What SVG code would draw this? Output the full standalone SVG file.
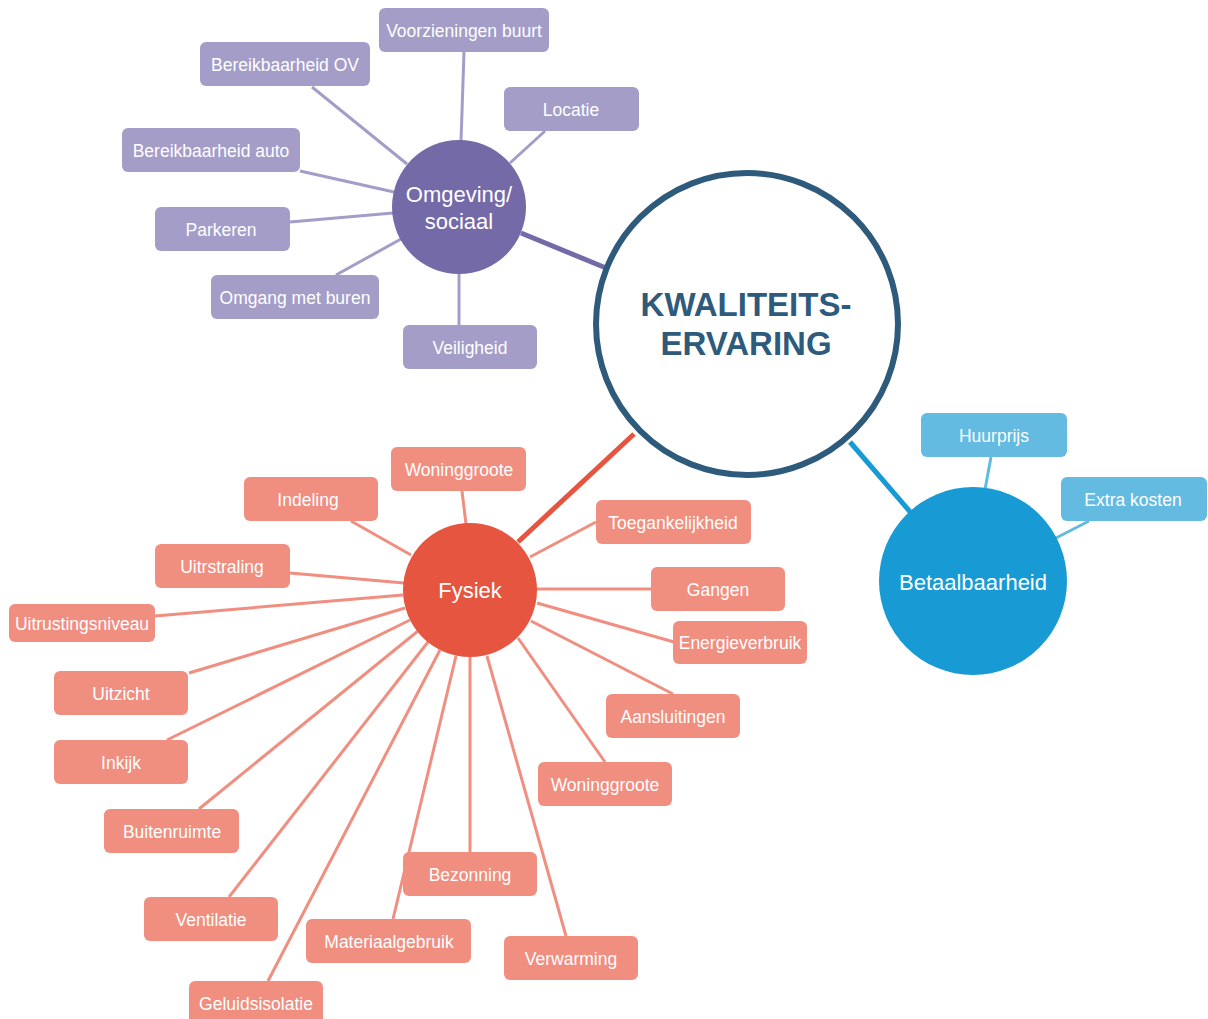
<svg xmlns="http://www.w3.org/2000/svg" width="1208" height="1019" viewBox="0 0 1208 1019">
  <style>
    text { font-family: "Liberation Sans", Arial, sans-serif; text-anchor: middle; fill: #ffffff; }
    .leaf { font-size: 17.5px; }
    .hub { font-size: 22px; }
    .title { font-size: 33px; font-weight: bold; fill: #2e5a7b; }
    .box-p { fill: #a39dc8; }
    .box-r { fill: #f08e80; }
    .box-b { fill: #63bbe1; }
    .ln-p { stroke: #a39dc8; stroke-width: 3; }
    .ln-r { stroke: #f08e80; stroke-width: 3; }
    .ln-b { stroke: #63bbe1; stroke-width: 3; }
    .main-p { stroke: #756aa8; stroke-width: 5; }
    .main-r { stroke: #e5553f; stroke-width: 5; }
    .main-b { stroke: #189bd4; stroke-width: 5; }
  </style>
  <rect width="1208" height="1019" fill="#ffffff"/>

  <g id="connectors" fill="none">
    <!-- hubs to centre -->
    <line class="main-p" x1="521" y1="233" x2="606" y2="268"/>
    <line class="main-r" x1="518" y1="542" x2="634" y2="434"/>
    <line class="main-b" x1="850" y1="442" x2="912" y2="514"/>
    <!-- Omgeving/sociaal leaves -->
    <line class="ln-p" x1="464" y1="52" x2="461" y2="141"/>
    <line class="ln-p" x1="312" y1="87" x2="407" y2="164"/>
    <line class="ln-p" x1="545" y1="131" x2="510" y2="163"/>
    <line class="ln-p" x1="300" y1="171" x2="394" y2="192"/>
    <line class="ln-p" x1="290" y1="222" x2="393" y2="213"/>
    <line class="ln-p" x1="336" y1="275" x2="401" y2="239"/>
    <line class="ln-p" x1="459" y1="273" x2="459" y2="325"/>
    <!-- Betaalbaarheid leaves -->
    <line class="ln-b" x1="991" y1="457" x2="984" y2="495"/>
    <line class="ln-b" x1="1089" y1="521" x2="1056" y2="538"/>
    <!-- Fysiek leaves -->
    <line class="ln-r" x1="462" y1="491" x2="466" y2="524"/>
    <line class="ln-r" x1="351" y1="521" x2="411" y2="555"/>
    <line class="ln-r" x1="596" y1="522" x2="530" y2="557"/>
    <line class="ln-r" x1="290" y1="573" x2="404" y2="583"/>
    <line class="ln-r" x1="651" y1="589" x2="536" y2="589"/>
    <line class="ln-r" x1="674" y1="642" x2="537" y2="603"/>
    <line class="ln-r" x1="155" y1="616" x2="403" y2="595"/>
    <line class="ln-r" x1="189" y1="673" x2="405" y2="608"/>
    <line class="ln-r" x1="673" y1="694" x2="531" y2="621"/>
    <line class="ln-r" x1="167" y1="740" x2="410" y2="620"/>
    <line class="ln-r" x1="605" y1="762" x2="518" y2="638"/>
    <line class="ln-r" x1="199" y1="809" x2="418" y2="631"/>
    <line class="ln-r" x1="470" y1="852" x2="470" y2="657"/>
    <line class="ln-r" x1="229" y1="897" x2="428" y2="642"/>
    <line class="ln-r" x1="393" y1="919" x2="456" y2="656"/>
    <line class="ln-r" x1="268" y1="981" x2="440" y2="650"/>
    <line class="ln-r" x1="566" y1="936" x2="487" y2="656"/>
  </g>

  <g id="kwaliteitservaring">
    <circle cx="747" cy="324" r="151" fill="#ffffff" stroke="#2e5a7b" stroke-width="6"/>
    <text class="title" x="746" y="316">KWALITEITS-</text>
    <text class="title" x="746" y="355">ERVARING</text>
  </g>

  <g id="omgeving-sociaal">
    <circle cx="459" cy="207" r="67" fill="#756aa8"/>
    <text class="hub" x="459" y="202">Omgeving/</text>
    <text class="hub" x="459" y="229">sociaal</text>
  </g>

  <g id="fysiek">
    <circle cx="470" cy="590" r="67" fill="#e5553f"/>
    <text class="hub" x="470" y="598">Fysiek</text>
  </g>

  <g id="betaalbaarheid">
    <circle cx="973" cy="581" r="94" fill="#189bd4"/>
    <text class="hub" x="973" y="590">Betaalbaarheid</text>
  </g>

  <!-- Omgeving/sociaal leaves -->
  <g id="voorzieningen-buurt"><rect class="box-p" x="379" y="8" width="170" height="44" rx="6"/><text class="leaf" x="464" y="37">Voorzieningen buurt</text></g>
  <g id="bereikbaarheid-ov"><rect class="box-p" x="200" y="42" width="170" height="44" rx="6"/><text class="leaf" x="285" y="71">Bereikbaarheid OV</text></g>
  <g id="locatie"><rect class="box-p" x="504" y="87" width="135" height="44" rx="6"/><text class="leaf" x="571" y="116">Locatie</text></g>
  <g id="bereikbaarheid-auto"><rect class="box-p" x="122" y="128" width="178" height="44" rx="6"/><text class="leaf" x="211" y="157">Bereikbaarheid auto</text></g>
  <g id="parkeren"><rect class="box-p" x="155" y="207" width="135" height="44" rx="6"/><text class="leaf" x="221" y="236">Parkeren</text></g>
  <g id="omgang-met-buren"><rect class="box-p" x="211" y="275" width="168" height="44" rx="6"/><text class="leaf" x="295" y="304">Omgang met buren</text></g>
  <g id="veiligheid"><rect class="box-p" x="403" y="325" width="134" height="44" rx="6"/><text class="leaf" x="470" y="354">Veiligheid</text></g>

  <!-- Betaalbaarheid leaves -->
  <g id="huurprijs"><rect class="box-b" x="921" y="413" width="146" height="44" rx="6"/><text class="leaf" x="994" y="442">Huurprijs</text></g>
  <g id="extra-kosten"><rect class="box-b" x="1061" y="477" width="146" height="44" rx="6"/><text class="leaf" x="1133" y="506">Extra kosten</text></g>

  <!-- Fysiek leaves -->
  <g id="woninggroote-1"><rect class="box-r" x="391" y="447" width="135" height="44" rx="6"/><text class="leaf" x="459" y="476">Woninggroote</text></g>
  <g id="indeling"><rect class="box-r" x="244" y="477" width="134" height="44" rx="6"/><text class="leaf" x="308" y="506">Indeling</text></g>
  <g id="toegankelijkheid"><rect class="box-r" x="596" y="500" width="155" height="44" rx="6"/><text class="leaf" x="673" y="529">Toegankelijkheid</text></g>
  <g id="uitrstraling"><rect class="box-r" x="155" y="544" width="135" height="44" rx="6"/><text class="leaf" x="222" y="573">Uitrstraling</text></g>
  <g id="gangen"><rect class="box-r" x="651" y="567" width="134" height="44" rx="6"/><text class="leaf" x="718" y="596">Gangen</text></g>
  <g id="uitrustingsniveau"><rect class="box-r" x="9" y="604" width="146" height="38" rx="6"/><text class="leaf" x="82" y="630">Uitrustingsniveau</text></g>
  <g id="energieverbruik"><rect class="box-r" x="673" y="621" width="134" height="43" rx="6"/><text class="leaf" x="740" y="649">Energieverbruik</text></g>
  <g id="uitzicht"><rect class="box-r" x="54" y="671" width="134" height="44" rx="6"/><text class="leaf" x="121" y="700">Uitzicht</text></g>
  <g id="aansluitingen"><rect class="box-r" x="606" y="694" width="134" height="44" rx="6"/><text class="leaf" x="673" y="723">Aansluitingen</text></g>
  <g id="inkijk"><rect class="box-r" x="54" y="740" width="134" height="44" rx="6"/><text class="leaf" x="121" y="769">Inkijk</text></g>
  <g id="woninggroote-2"><rect class="box-r" x="538" y="762" width="134" height="44" rx="6"/><text class="leaf" x="605" y="791">Woninggroote</text></g>
  <g id="buitenruimte"><rect class="box-r" x="104" y="809" width="135" height="44" rx="6"/><text class="leaf" x="172" y="838">Buitenruimte</text></g>
  <g id="bezonning"><rect class="box-r" x="403" y="852" width="134" height="44" rx="6"/><text class="leaf" x="470" y="881">Bezonning</text></g>
  <g id="ventilatie"><rect class="box-r" x="144" y="897" width="134" height="44" rx="6"/><text class="leaf" x="211" y="926">Ventilatie</text></g>
  <g id="materiaalgebruik"><rect class="box-r" x="306" y="919" width="165" height="44" rx="6"/><text class="leaf" x="389" y="948">Materiaalgebruik</text></g>
  <g id="verwarming"><rect class="box-r" x="504" y="936" width="134" height="44" rx="6"/><text class="leaf" x="571" y="965">Verwarming</text></g>
  <g id="geluidsisolatie"><rect class="box-r" x="189" y="981" width="134" height="46" rx="6"/><text class="leaf" x="256" y="1010">Geluidsisolatie</text></g>
</svg>
